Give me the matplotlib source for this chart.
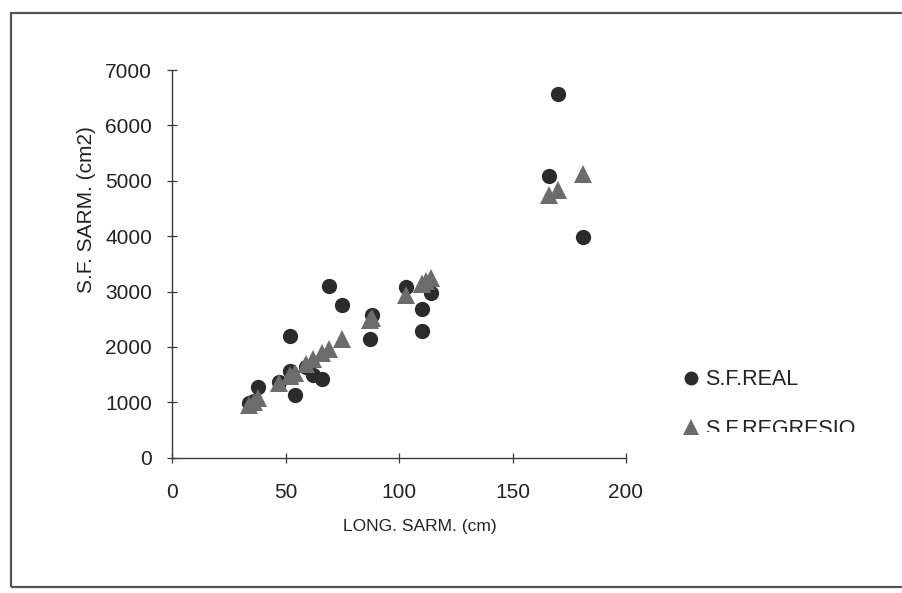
import matplotlib
matplotlib.use("Agg")
import matplotlib.pyplot as plt
from matplotlib.patches import Rectangle
from matplotlib.lines import Line2D
from matplotlib.transforms import Bbox, TransformedBbox

plt.rcParams['font.family'] = ['Liberation Sans', 'DejaVu Sans']

# Shoot length (cm) and leaf surface (cm2): measured vs regression estimate
long_sarm = [34, 36, 38, 47, 52, 52, 54, 59, 62, 66, 69, 75,
             87, 88, 103, 110, 110, 112, 114, 166, 170, 181]
sf_real = [990, 1030, 1280, 1360, 2200, 1570, 1130, 1640, 1500, 1420, 3100, 2760,
           2140, 2570, 3080, 2690, 2280, 3120, 2980, 5080, 6560, 3990]
sf_regresio = [960, 1010, 1070, 1350, 1480, 1490, 1530, 1700, 1790, 1890, 1970, 2150,
               2480, 2530, 2940, 3130, 3130, 3190, 3250, 4740, 4840, 5130]

series_names = ['S.F.REAL', 'S.F.REGRESIO']
x_ticks = [0, 50, 100, 150, 200]
y_ticks = [0, 1000, 2000, 3000, 4000, 5000, 6000, 7000]

axis_color = '#3a3a3a'
text_color = '#222222'
real_color = '#2b2b2b'
regr_color = '#6c6c6c'

W, H = 902, 593
fig = plt.figure(figsize=(W / 100, H / 100), dpi=100)
fig.patch.set_facecolor('white')

# outer chart border (right side runs off the page)
fig.patches.append(Rectangle((11 / W, 6 / H), 1.2, (580 - 6) / H,
                             transform=fig.transFigure, fill=False,
                             edgecolor='#555555', linewidth=1.6))

ax = fig.add_axes([0.191, 0.2282, 0.503, 0.6537])
ax.set_facecolor('none')

ax.plot(long_sarm, sf_real, linestyle='none', marker='o', markersize=11,
        color=real_color, markeredgewidth=0, zorder=3)
ax.plot(long_sarm, sf_regresio, linestyle='none', marker='^', markersize=13,
        color=regr_color, markeredgewidth=0, zorder=4)

ax.set_xlim(0, 200)
ax.set_ylim(0, 7000)
ax.set_xticks(x_ticks)
ax.set_yticks(y_ticks)

for side in ['top', 'right']:
    ax.spines[side].set_visible(False)
for side in ['left', 'bottom']:
    ax.spines[side].set_color(axis_color)
    ax.spines[side].set_linewidth(1.0)

ax.tick_params(axis='both', direction='inout', length=7, width=0.9,
               color=axis_color, labelsize=15, labelcolor=text_color)
ax.tick_params(axis='y', pad=11)
ax.tick_params(axis='x', pad=15)

ax.set_xlabel('LONG. SARM. (cm)', fontsize=12.5, color=text_color)
ax.xaxis.set_label_coords(0.546, -0.178)
ax.set_ylabel('S.F. SARM. (cm2)', fontsize=15, color=text_color)
ax.yaxis.set_label_coords(-0.19, 0.639)
ax.yaxis.label.set_verticalalignment('center')
ax.xaxis.label.set_verticalalignment('center')

# legend drawn by hand on the figure, right of the plot
# (marker y, text baseline y, marker, size, colour) in pixels from the top
legend_rows = [(378, 385, 'o', 10, real_color), (427, 435, '^', 12, regr_color)]
for (ym, yb, marker, ms, color), name in zip(legend_rows, series_names):
    fig.add_artist(Line2D([691 / W], [(H - ym) / H], transform=fig.transFigure,
                          linestyle='none', marker=marker, markersize=ms,
                          color=color, markeredgewidth=0))
    txt = fig.text(705 / W, (H - yb) / H, name, fontsize=15.5, color=text_color,
                   va='baseline', ha='left')
    if marker == '^':
        # the lower entry is cut off along its bottom edge
        clip = TransformedBbox(Bbox([[0.0, (H - 431.5) / H], [1.0, 1.0]]),
                               fig.transFigure)
        txt.set_clip_box(clip)
        txt.set_clip_on(True)

fig.savefig('out.png', dpi=100, facecolor='white')
